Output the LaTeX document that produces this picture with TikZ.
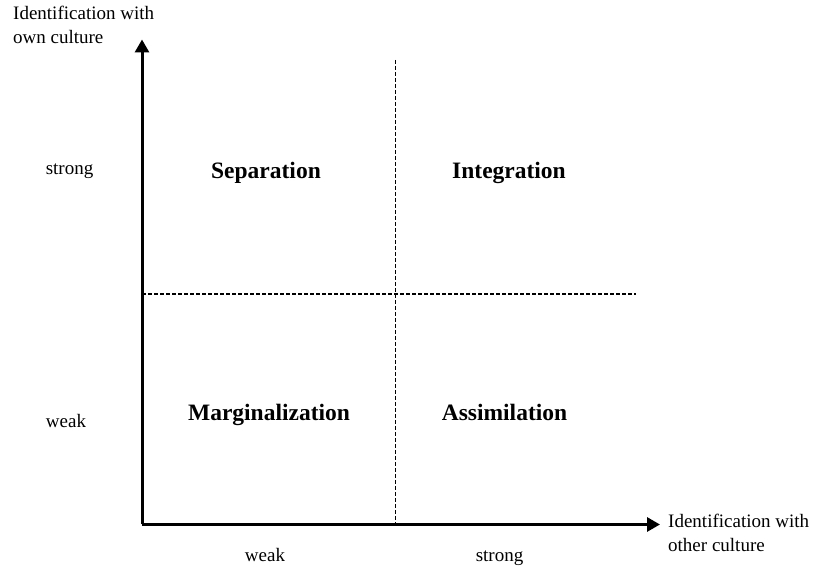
\documentclass[tikz,border=0pt]{standalone}
\usepackage{fontspec}
\setmainfont{Liberation Serif}
\usetikzlibrary{arrows.meta}
\tikzset{
  axis/.style = {line width=3pt, -{Triangle[length=13pt,width=14pt]}},
  divider/.style = {line width=1.6pt, dash pattern=on 4pt off 2pt},
  quadrant/.style = {inner sep=0pt, anchor=base, font=\fontsize{23.5}{28}\selectfont\bfseries},
  level/.style = {inner sep=0pt, anchor=base, font=\fontsize{19}{23.5}\selectfont},
  axistitle/.style = {inner sep=0pt, anchor=base west, align=left, font=\fontsize{19}{24}\selectfont}
}
\begin{document}
\begin{tikzpicture}[x=1pt, y=1pt]
                        \useasboundingbox (0,0) rectangle (814,567);
                        \coordinate (origin) at (142,42.5);
                        \coordinate (ytip) at (142,527.5);
                        \coordinate (xtip) at (660,42.5);
                        \coordinate (vtop) at (395.5,507);
                        \coordinate (vbottom) at (395.5,42.5);
                        \coordinate (hleft) at (142,273);
                        \coordinate (hright) at (636,273);
                        \draw[divider] (vtop) -- (vbottom);
                        \draw[divider] (hleft) -- (hright);
                        \draw[axis] (origin) -- (ytip);
                        \draw[axis] (origin) -- (xtip);
                        \node[quadrant] (separation) at (266,388) {Separation};
                        \node[quadrant] (integration) at (509,388) {Integration};
                        \node[quadrant] (marginalization) at (269,146.3) {Marginalization};
                        \node[quadrant] (assimilation) at (504.5,146.3) {Assimilation};
                        \node[level] (ownstrong) at (69.5,392) {strong};
                        \node[level] (ownweak) at (66,139) {weak};
                        \node[level] (otherweak) at (265,5.3) {weak};
                        \node[level] (otherstrong) at (499.5,5.3) {strong};
                        \node[axistitle] (owntitle) at (13,523) {Identification with\\own culture};
                        \node[axistitle] (othertitle) at (668,15) {Identification with\\other culture};
                    \end{tikzpicture}
\end{document}
